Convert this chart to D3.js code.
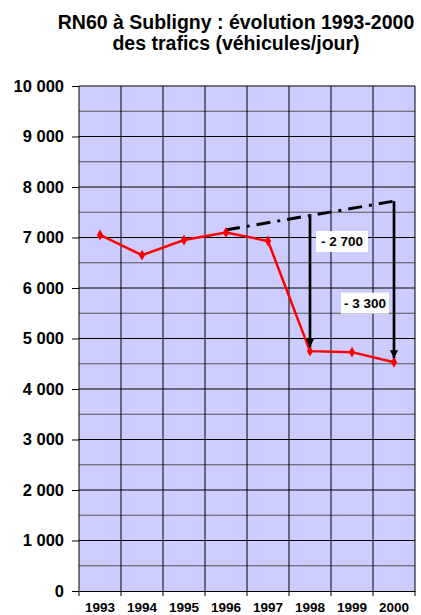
<!DOCTYPE html>
<html>
<head>
<meta charset="utf-8">
<script src="https://cdn.jsdelivr.net/npm/d3@7"></script>
<style>
  body { margin: 0; background: #fff; overflow: hidden; }
  svg { font-family: "Liberation Sans", Arial, sans-serif; display: block; }
</style>
</head>
<body>
<div id="chart"></div>
<script>
// Data
var years = ["1993", "1994", "1995", "1996", "1997", "1998", "1999", "2000"];
var trafic = [7050, 6650, 6950, 7100, 6930, 4750, 4730, 4530];
var trendYears = ["1996", "2000"];
var trendValues = [7150, 7720];
var gapYears = ["1998", "2000"];
var gapTop = [7460, 7720];
var gapBottom = [4750, 4530];
var gapLabels = ["- 2 700", "- 3 300"];
var gapLabelValues = [6930, 5710];
var yTicks = d3.range(0, 10001, 1000);
var yMinor = d3.range(500, 10000, 1000);

var width = 421, height = 615;
var margin = {top: 86, right: 6, bottom: 24, left: 79};

var svg = d3.select("#chart").append("svg")
    .attr("width", width)
    .attr("height", height);

// Title
svg.append("text")
    .attr("x", 236).attr("y", 29)
    .attr("text-anchor", "middle")
    .style("font-size", "19.5px").style("font-weight", "bold")
    .text("RN60 à Subligny : évolution 1993-2000");
svg.append("text")
    .attr("x", 236).attr("y", 50)
    .attr("text-anchor", "middle")
    .style("font-size", "19.5px").style("font-weight", "bold")
    .text("des trafics (véhicules/jour)");

var x = d3.scaleBand()
    .domain(years)
    .range([margin.left, width - margin.right]);

var y = d3.scaleLinear()
    .domain([0, 10000])
    .range([height - margin.bottom, margin.top]);

var cx = function(yr) { return x(yr) + x.bandwidth() / 2; };

// Plot background
svg.append("rect")
    .attr("x", margin.left).attr("y", margin.top)
    .attr("width", width - margin.left - margin.right)
    .attr("height", y(0) - margin.top)
    .style("fill", "#ccccff");

// Gridlines
svg.append("g").selectAll("line.minor")
    .data(yMinor).enter().append("line")
    .attr("x1", margin.left).attr("x2", width - margin.right)
    .attr("y1", d => y(d)).attr("y2", d => y(d))
    .style("stroke", "#555").style("stroke-width", 1);

svg.append("g").selectAll("line.major")
    .data(yTicks.slice(1)).enter().append("line")
    .attr("x1", margin.left).attr("x2", width - margin.right)
    .attr("y1", d => y(d)).attr("y2", d => y(d))
    .style("stroke", "#000").style("stroke-width", 1);

svg.append("g").selectAll("line.v")
    .data(years.slice(1)).enter().append("line")
    .attr("x1", d => x(d)).attr("x2", d => x(d))
    .attr("y1", margin.top).attr("y2", y(0))
    .style("stroke", "#000").style("stroke-width", 1);

// Right border
svg.append("line")
    .attr("x1", width - margin.right).attr("x2", width - margin.right)
    .attr("y1", margin.top).attr("y2", y(0))
    .style("stroke", "#000");

// Axes
var yAxis = svg.append("g")
    .attr("transform", "translate(" + margin.left + ",0)")
    .call(d3.axisLeft(y).tickValues(yTicks).tickSize(7).tickPadding(8)
        .tickFormat(d => d3.format(",")(d).replace(/,/g, " ")));
yAxis.selectAll("text").style("font-size", "16.5px").style("font-weight", "bold").style("fill", "#000");
yAxis.select(".domain").remove();
svg.append("line")
    .attr("x1", margin.left).attr("x2", margin.left)
    .attr("y1", margin.top).attr("y2", y(0))
    .style("stroke", "#000");

var xAxis = svg.append("g")
    .attr("transform", "translate(0," + y(0) + ")")
    .call(d3.axisBottom(x).tickSize(0).tickPadding(0));
xAxis.select(".domain").style("stroke", "#000");
xAxis.selectAll("text")
    .attr("dy", null).attr("y", 21)
    .style("font-size", "13.5px").style("font-weight", "bold").style("fill", "#000");
svg.append("g").selectAll("line.xt")
    .data(years.concat(["end"])).enter().append("line")
    .attr("x1", (d, i) => margin.left + i * x.bandwidth())
    .attr("x2", (d, i) => margin.left + i * x.bandwidth())
    .attr("y1", y(0)).attr("y2", y(0) + 5)
    .style("stroke", "#000");

// Trend (dash-dot)
svg.append("line")
    .attr("x1", cx(trendYears[0])).attr("y1", y(trendValues[0]))
    .attr("x2", cx(trendYears[1])).attr("y2", y(trendValues[1]))
    .style("stroke", "#000").style("stroke-width", 3)
    .style("stroke-dasharray", "14,7,3,7");

// Traffic line
var line = d3.line()
    .x((d, i) => cx(years[i]))
    .y(d => y(d));

svg.append("path")
    .datum(trafic)
    .attr("d", line)
    .style("fill", "none")
    .style("stroke", "#ff0000")
    .style("stroke-width", 2.5);

svg.append("g").selectAll("path.pt")
    .data(trafic).enter().append("path")
    .attr("transform", (d, i) => "translate(" + cx(years[i]) + "," + y(d) + ")")
    .attr("d", d3.symbol().type(d3.symbolDiamond).size(34))
    .style("fill", "#ff0000");

// Arrows
var defs = svg.append("defs");
defs.append("marker")
    .attr("id", "arrow")
    .attr("viewBox", "0 0 10 10")
    .attr("refX", 10).attr("refY", 5)
    .attr("markerWidth", 3).attr("markerHeight", 4.4)
    .attr("markerUnits", "strokeWidth")
    .attr("orient", "auto")
    .append("path")
    .attr("d", "M0,0L10,5L0,10Z")
    .style("fill", "#000");

svg.append("g").selectAll("line.gap")
    .data(gapYears).enter().append("line")
    .attr("x1", d => cx(d)).attr("x2", d => cx(d))
    .attr("y1", (d, i) => y(gapTop[i]))
    .attr("y2", (d, i) => y(gapBottom[i]) - 4)
    .style("stroke", "#000").style("stroke-width", 2.7)
    .attr("marker-end", "url(#arrow)");

// Gap labels
var labelOffsets = [6, -53];
var labelWidths = [52, 48];
gapYears.forEach(function(yr, i) {
    var g = svg.append("g")
        .attr("transform", "translate(" + (cx(yr) + labelOffsets[i]) + "," + y(gapLabelValues[i]) + ")");
    g.append("rect")
        .attr("x", 0).attr("y", -10)
        .attr("width", labelWidths[i]).attr("height", 21)
        .style("fill", "#fff");
    g.append("text")
        .attr("x", labelWidths[i] / 2).attr("y", 5)
        .attr("text-anchor", "middle")
        .style("font-size", "13.5px").style("font-weight", "bold")
        .text(gapLabels[i]);
});
</script>
</body>
</html>
